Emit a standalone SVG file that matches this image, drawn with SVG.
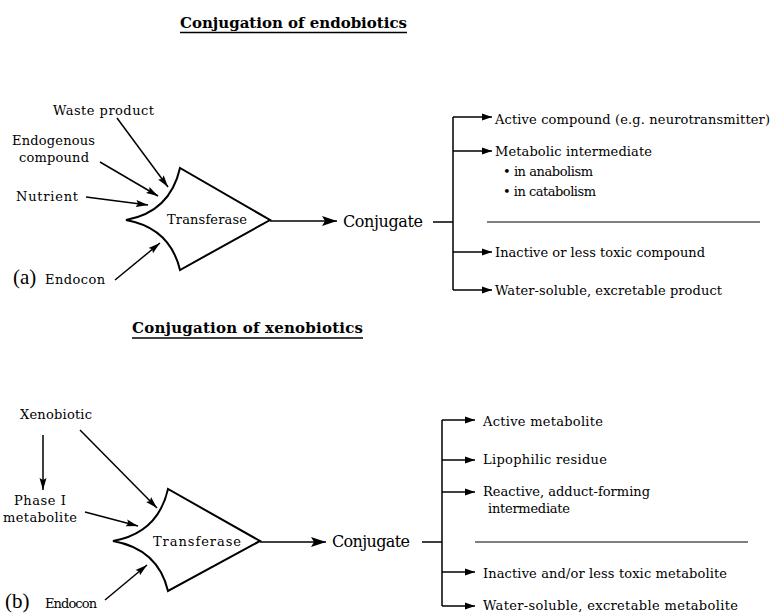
<svg xmlns="http://www.w3.org/2000/svg" width="771" height="614" viewBox="0 0 771 614">
<style>
text{font-family:"DejaVu Serif","Liberation Serif",serif;fill:#000}
.t{font-size:13px}
.title{font-size:15px;font-weight:bold}
.big{font-size:16px}
.lab{font-size:21px;font-family:"Liberation Serif",serif}
.ln{stroke:#000;stroke-width:1.5;fill:none}
.shape{stroke:#000;stroke-width:2;fill:#fff}
</style>
<defs>
<marker id="mBig" markerUnits="userSpaceOnUse" markerWidth="16" markerHeight="12" refX="15" refY="6" orient="auto"><path d="M0,1 L15,6 L0,11 L3,6 z" fill="#000"/></marker>
<marker id="mMed" markerUnits="userSpaceOnUse" markerWidth="13" markerHeight="8" refX="12" refY="4" orient="auto"><path d="M0,0.5 L12,4 L0,7.5 L2,4 z" fill="#000"/></marker>
<marker id="mSm" markerUnits="userSpaceOnUse" markerWidth="11" markerHeight="8" refX="10" refY="4" orient="auto"><path d="M0,0.5 L10,4 L0,7.5 z" fill="#000"/></marker>
</defs>

<g id="title-a">
<text class="title" x="180" y="28" textLength="227">Conjugation of endobiotics</text>
<line x1="180" y1="32.5" x2="407" y2="32.5" stroke="#000" stroke-width="1.5"/>
</g>
<g id="title-b">
<text class="title" x="132" y="333" textLength="231">Conjugation of xenobiotics</text>
<line x1="132" y1="338" x2="363" y2="338" stroke="#000" stroke-width="1.5"/>
</g>

<!-- Part (a) nodes -->
<g id="a-waste"><text class="t" x="53" y="115" textLength="101">Waste product</text></g>
<g id="a-endog"><text class="t" x="12" y="145" textLength="83">Endogenous</text><text class="t" x="19" y="162" textLength="70">compound</text></g>
<g id="a-nutrient"><text class="t" x="16" y="201" textLength="62">Nutrient</text></g>
<g id="a-endocon"><text class="lab" x="13" y="284">(a)</text><text class="t" x="45" y="284" textLength="60">Endocon</text></g>
<g id="a-transferase">
<path class="shape" d="M126,220 Q170,212 180,168 L270,220 L180,270 Q170,228 126,220 Z"/>
<text class="t" x="207" y="224" text-anchor="middle" textLength="80">Transferase</text>
</g>
<g id="a-conjugate"><text class="big" x="343" y="227" textLength="80">Conjugate</text></g>
<g id="a-out1"><text class="t" x="495" y="124" textLength="275">Active compound (e.g. neurotransmitter)</text></g>
<g id="a-out2"><text class="t" x="495" y="156" textLength="157">Metabolic intermediate</text>
<text class="t" x="503" y="176" textLength="90">• in anabolism</text>
<text class="t" x="503" y="196" textLength="93">• in catabolism</text></g>
<g id="a-out3"><text class="t" x="495" y="257" textLength="210">Inactive or less toxic compound</text></g>
<g id="a-out4"><text class="t" x="495" y="295" textLength="227">Water-soluble, excretable product</text></g>

<!-- Part (b) nodes -->
<g id="b-xeno"><text class="t" x="20" y="419" textLength="72">Xenobiotic</text></g>
<g id="b-phase1"><text class="t" x="14" y="505" textLength="52">Phase I</text><text class="t" x="3" y="522" textLength="74">metabolite</text></g>
<g id="b-endocon"><text class="lab" x="5" y="608">(b)</text><text class="t" x="45" y="608" textLength="52">Endocon</text></g>
<g id="b-transferase">
<path class="shape" d="M113,541 Q158,533 168,489 L260,541 L168,591 Q158,549 113,541 Z"/>
<text class="t" x="197" y="546" text-anchor="middle" textLength="88">Transferase</text>
</g>
<g id="b-conjugate"><text class="big" x="332" y="547" textLength="78">Conjugate</text></g>
<g id="b-out1"><text class="t" x="483" y="426" textLength="120">Active metabolite</text></g>
<g id="b-out2"><text class="t" x="483" y="464" textLength="124">Lipophilic residue</text></g>
<g id="b-out3"><text class="t" x="483" y="496" textLength="167">Reactive, adduct-forming</text>
<text class="t" x="488" y="513" textLength="82">intermediate</text></g>
<g id="b-out4"><text class="t" x="483" y="578" textLength="244">Inactive and/or less toxic metabolite</text></g>
<g id="b-out5"><text class="t" x="483" y="610" textLength="255">Water-soluble, excretable metabolite</text></g>

<g id="connectors">
<!-- (a) inputs -->
<line class="ln" x1="117" y1="118" x2="168" y2="187" marker-end="url(#mMed)"/>
<line class="ln" x1="100" y1="162" x2="158" y2="196" marker-end="url(#mMed)"/>
<line class="ln" x1="86" y1="197" x2="148" y2="205" marker-end="url(#mMed)"/>
<line class="ln" x1="115" y1="280" x2="160" y2="243" marker-end="url(#mMed)"/>
<line class="ln" x1="270" y1="221" x2="337" y2="221" stroke-width="2" marker-end="url(#mBig)"/>
<path class="ln" d="M433,222 H453 M453,117 V290"/>
<line class="ln" x1="453" y1="117" x2="492" y2="117" marker-end="url(#mSm)"/>
<line class="ln" x1="453" y1="151" x2="492" y2="151" marker-end="url(#mSm)"/>
<line class="ln" x1="453" y1="252" x2="492" y2="252" marker-end="url(#mSm)"/>
<line class="ln" x1="453" y1="290" x2="492" y2="290" marker-end="url(#mSm)"/>
<line x1="487" y1="222" x2="760" y2="222" stroke="#000" stroke-width="1.2"/>
<!-- (b) inputs -->
<line class="ln" x1="43" y1="435" x2="43" y2="490" marker-end="url(#mMed)"/>
<line class="ln" x1="80" y1="430" x2="157" y2="508" marker-end="url(#mMed)"/>
<line class="ln" x1="85" y1="512" x2="138" y2="526" marker-end="url(#mMed)"/>
<line class="ln" x1="105" y1="600" x2="147" y2="565" marker-end="url(#mMed)"/>
<line class="ln" x1="260" y1="542" x2="326" y2="542" stroke-width="2" marker-end="url(#mBig)"/>
<path class="ln" d="M422,542 H442 M442,420 V606"/>
<line class="ln" x1="442" y1="420" x2="475" y2="420" marker-end="url(#mSm)"/>
<line class="ln" x1="442" y1="460" x2="475" y2="460" marker-end="url(#mSm)"/>
<line class="ln" x1="442" y1="492" x2="475" y2="492" marker-end="url(#mSm)"/>
<line class="ln" x1="442" y1="572" x2="475" y2="572" marker-end="url(#mSm)"/>
<line class="ln" x1="442" y1="606" x2="475" y2="606" marker-end="url(#mSm)"/>
<line x1="475" y1="542" x2="748" y2="542" stroke="#000" stroke-width="1.2"/>
</g>
</svg>
